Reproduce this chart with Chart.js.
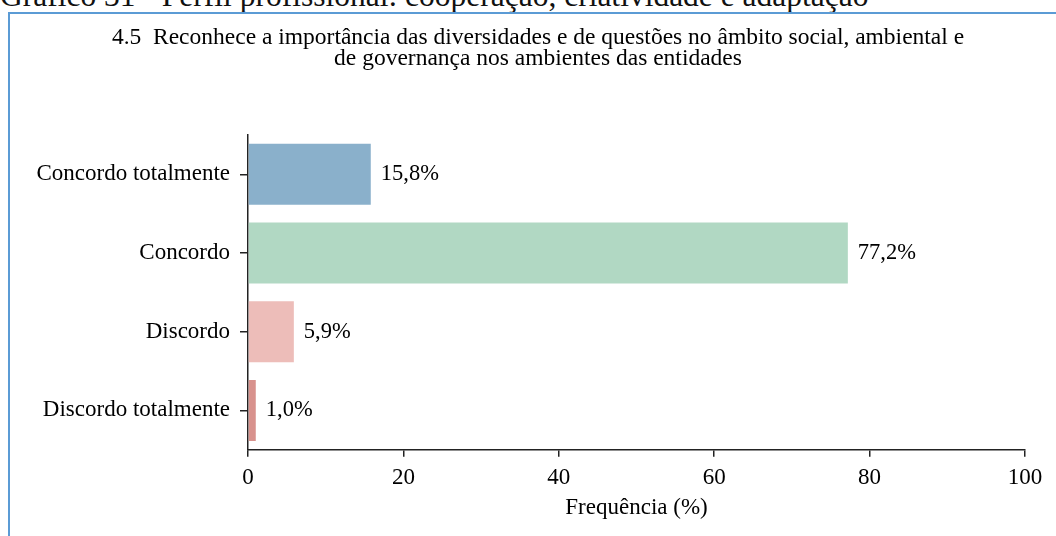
<!DOCTYPE html>
<html>
<head>
<meta charset="utf-8">
<script src="https://cdn.jsdelivr.net/npm/chart.js@4/dist/chart.umd.min.js"></script>
<style>
  html, body { margin: 0; padding: 0; background: #fff; overflow: hidden; }
  #wrap { position: relative; width: 1056px; height: 536px; }
  #header { position: absolute; left: 0; top: -20px; font-family: "Liberation Serif", "Times New Roman", serif; font-size: 31.5px; line-height: 31px; color: #111; white-space: nowrap; }
  #frameTop { position: absolute; left: 8px; top: 12px; width: 1048px; height: 2px; background: #5B9BD5; }
  #frameLeft { position: absolute; left: 8px; top: 12px; width: 2px; height: 524px; background: #5B9BD5; }
  canvas { position: absolute; left: 0; top: 0; }
</style>
</head>
<body>
<div id="wrap">
  <div id="header">Gráfico 31 - Perfil profissional: cooperação, criatividade e adaptação</div>
  <canvas id="c" width="1056" height="536"></canvas>
  <div id="frameTop"></div>
  <div id="frameLeft"></div>
</div>
<script>
const categories = ["Concordo totalmente", "Concordo", "Discordo", "Discordo totalmente"];
const frequencies = [15.8, 77.2, 5.9, 1.0];
const barColors = ["#8AB0CB", "#B1D8C3", "#EDBDB9", "#D8928D"];
const xTicks = [0, 20, 40, 60, 80, 100];
const titleLines = [
  "4.5  Reconhece a importância das diversidades e de questões no âmbito social, ambiental e",
  "de governança nos ambientes das entidades"
];
const xAxisTitle = "Frequência (%)";

const SERIF = '"Liberation Serif", "Times New Roman", serif';

const titlePlugin = {
  id: 'customTitle',
  afterDraw(chart) {
    const ctx = chart.ctx;
    ctx.save();
    ctx.font = '23.5px ' + SERIF;
    ctx.fillStyle = '#000';
    ctx.textAlign = 'center';
    ctx.textBaseline = 'alphabetic';
    ctx.fillText(titleLines[0], 538, 44);
    ctx.fillText(titleLines[1], 538, 65);
    ctx.restore();
  }
};

const labelPlugin = {
  id: 'valueLabels',
  afterDatasetsDraw(chart) {
    const ctx = chart.ctx;
    const meta = chart.getDatasetMeta(0);
    ctx.save();
    ctx.font = '22.5px ' + SERIF;
    ctx.fillStyle = '#000';
    ctx.textAlign = 'left';
    ctx.textBaseline = 'middle';
    meta.data.forEach((bar, i) => {
      const v = frequencies[i];
      const txt = v.toFixed(1).replace('.', ',') + '%';
      ctx.fillText(txt, bar.x + 10, bar.y);
    });
    ctx.restore();
  }
};

new Chart(document.getElementById('c'), {
  type: 'bar',
  data: {
    labels: categories,
    datasets: [{
      data: frequencies,
      backgroundColor: barColors,
      borderWidth: 0,
      barPercentage: 0.775,
      categoryPercentage: 1.0
    }]
  },
  options: {
    indexAxis: 'y',
    responsive: false,
    animation: false,
    devicePixelRatio: 1,
    layout: { padding: { left: 18, right: 31, top: 135, bottom: 14 } },
    plugins: {
      legend: { display: false },
      title: { display: false },
      tooltip: { enabled: false }
    },
    scales: {
      y: {
        type: 'category',
        offset: true,
        grid: { display: true, offset: false, drawOnChartArea: false, drawTicks: true, tickLength: 8, color: '#222', lineWidth: 1.5 },
        border: { display: true, color: '#222', width: 1.5 },
        ticks: { color: '#000', font: { family: SERIF, size: 23 }, padding: 10 },
        afterFit(scale) { scale.width = 230; }
      },
      x: {
        min: 0,
        max: 100,
        afterBuildTicks(scale) { scale.ticks = xTicks.map(v => ({ value: v })); },
        grid: { display: true, drawOnChartArea: false, drawTicks: true, tickLength: 7, color: '#222', lineWidth: 1.5 },
        border: { display: true, color: '#222', width: 1.5 },
        ticks: { color: '#000', font: { family: SERIF, size: 23 }, padding: 7, maxRotation: 0 },
        title: { display: true, text: xAxisTitle, color: '#000', font: { family: SERIF, size: 23 }, padding: { top: -4, bottom: 0 } }
      }
    }
  },
  plugins: [titlePlugin, labelPlugin]
});
</script>
</body>
</html>
